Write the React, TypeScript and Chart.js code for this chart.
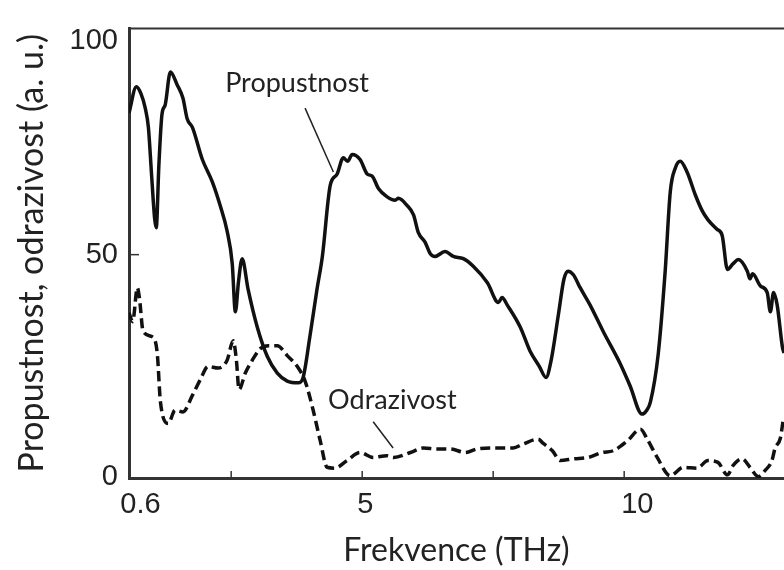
import React, { useEffect, useRef } from 'react';
import { Chart, registerables } from 'chart.js';

Chart.register(...registerables);

// Propustnost (solid line)
const propX = [0.55, 0.69, 0.78, 0.86, 0.92, 0.98, 1.04, 1.07, 1.12, 1.18, 1.24, 1.34, 1.47, 1.58, 1.66, 1.76, 1.95, 2.14, 2.29, 2.42, 2.52, 2.58, 2.64, 2.71, 2.82, 3.0, 3.19, 3.38, 3.57, 3.78, 3.87, 4.0, 4.14, 4.24, 4.39, 4.52, 4.64, 4.72, 4.81, 4.96, 5.1, 5.19, 5.31, 5.47, 5.63, 5.69, 5.85, 5.98, 6.07, 6.2, 6.3, 6.39, 6.58, 6.74, 6.93, 7.12, 7.39, 7.6, 7.67, 7.77, 8.02, 8.2, 8.38, 8.51, 8.6, 8.75, 8.85, 8.93, 9.03, 9.16, 9.35, 9.6, 9.92, 10.11, 10.34, 10.42, 10.5, 10.65, 10.78, 10.88, 10.98, 11.07, 11.2, 11.36, 11.49, 11.6, 11.77, 11.87, 11.97, 12.08, 12.18, 12.35, 12.4, 12.45, 12.6, 12.73, 12.79, 12.85, 12.92, 13.02, 13.05];
const propY = [81.7, 87.6, 86, 82.8, 78.5, 68, 58, 56, 70, 81.5, 83.5, 90.9, 88, 85, 80.4, 78.5, 71.3, 66.3, 61, 55.4, 48, 37.2, 44, 49.1, 42.4, 33.7, 27.2, 23.5, 21.7, 21.3, 22.4, 31.5, 42.4, 49.6, 65.5, 68, 71.7, 70.9, 72.4, 71.3, 68, 67.6, 64.8, 63, 62.2, 62.6, 61.1, 58.9, 55, 52.8, 50.2, 49.6, 50.7, 49.6, 49.1, 47.4, 43.7, 39.3, 40.4, 38.7, 33.7, 28.5, 25, 22.5, 26, 37, 44.5, 46.3, 45.5, 42.6, 38.7, 32.8, 25.7, 20.7, 14.3, 15, 17, 27.8, 45.9, 64.1, 69.5, 70.9, 68.5, 63.3, 59.8, 57.8, 55.7, 54.3, 46.7, 48, 48.9, 46.3, 44.6, 45.7, 43, 41.5, 37.2, 41.5, 38.7, 29.3, 28];

// Odrazivost (dashed line)
const odrX = [0.55, 0.62, 0.71, 0.75, 0.82, 1.01, 1.09, 1.15, 1.3, 1.43, 1.58, 1.76, 1.91, 2.06, 2.25, 2.42, 2.54, 2.6, 2.65, 2.77, 2.9, 3.05, 3.21, 3.38, 3.57, 3.76, 3.91, 4.06, 4.2, 4.33, 4.48, 4.71, 4.96, 5.21, 5.47, 5.6, 5.92, 6.17, 6.43, 6.68, 6.97, 7.19, 7.44, 7.69, 7.88, 8.07, 8.36, 8.45, 8.63, 8.78, 9.03, 9.31, 9.58, 9.79, 10.06, 10.31, 10.44, 10.63, 10.88, 11.13, 11.39, 11.6, 11.79, 11.97, 12.08, 12.25, 12.4, 12.56, 12.69, 12.82, 12.88, 12.98, 13.03];
const odrY = [37, 35, 42.6, 40.2, 32.8, 31.5, 27.8, 17, 12.2, 15.2, 14.8, 18.5, 22, 25, 24.6, 26.3, 30.7, 26.3, 19.8, 23.5, 26.3, 28.9, 29.6, 29.6, 27.4, 25, 21.7, 15.4, 8.3, 2.4, 2.2, 3.9, 5.7, 4.6, 5, 4.6, 5.7, 6.7, 6.5, 6.5, 5.7, 6.5, 6.7, 6.7, 6.7, 7.6, 8.7, 7.8, 6.1, 3.9, 4.3, 4.6, 5.7, 6.1, 8.3, 10.9, 8.7, 4.6, 0.5, 2.4, 2.2, 3.9, 3.5, 0.7, 2.8, 4.3, 2.4, 0.3, 1.7, 3.9, 6.7, 8.9, 12.6];

// Axis labels
const xTickLabels = ['0.6', '5', '10'];
const xTickLabelAt = [0.77, 5.06, 10.25];
const xInnerTicks = [2.5, 5, 7.5, 10];
const yTickLabels = ['0', '50', '100'];
const yTickLabelAt = [0.2, 50, 97.8];
const yInnerTicks = [50];
const xTitle = 'Frekvence (THz)';
const yTitle = 'Propustnost, odrazivost (a. u.)';

// Annotations (text anchor and leader line, in data units)
const noteTexts = ['Propustnost', 'Odrazivost'];
const noteTextX = [2.385, 4.35];
const noteTextY = [86.5, 15.4];
const noteLineX1 = [3.91, 5.21];
const noteLineY1 = [82.8, 12.6];
const noteLineX2 = [4.45, 5.59];
const noteLineY2 = [68.5, 6.7];

const decorPlugin = {
  id: 'decor',
  afterDatasetsDraw(chart: any) {
    const { ctx, chartArea, scales } = chart;
    const x = scales.x;
    const y = scales.y;
    ctx.save();
    // top frame line
    ctx.strokeStyle = '#333';
    ctx.lineWidth = 2;
    ctx.beginPath();
    ctx.moveTo(chartArea.left, chartArea.top);
    ctx.lineTo(chartArea.right, chartArea.top);
    ctx.stroke();
    // inner ticks
    ctx.lineWidth = 1.5;
    xInnerTicks.forEach((v) => {
      const px = x.getPixelForValue(v);
      ctx.beginPath();
      ctx.moveTo(px, chartArea.bottom);
      ctx.lineTo(px, chartArea.bottom - 7);
      ctx.stroke();
    });
    yInnerTicks.forEach((v) => {
      const py = y.getPixelForValue(v);
      ctx.beginPath();
      ctx.moveTo(chartArea.left, py);
      ctx.lineTo(chartArea.left + 10, py);
      ctx.stroke();
    });
    // annotations
    ctx.fillStyle = '#222';
    ctx.font = '27px Lato';
    ctx.textAlign = 'left';
    ctx.textBaseline = 'alphabetic';
    ctx.strokeStyle = '#222';
    ctx.lineWidth = 1.5;
    noteTexts.forEach((t, i) => {
      ctx.fillText(t, x.getPixelForValue(noteTextX[i]), y.getPixelForValue(noteTextY[i]));
      ctx.beginPath();
      ctx.moveTo(x.getPixelForValue(noteLineX1[i]), y.getPixelForValue(noteLineY1[i]));
      ctx.lineTo(x.getPixelForValue(noteLineX2[i]), y.getPixelForValue(noteLineY2[i]));
      ctx.stroke();
    });
    ctx.restore();
  },
};

export default function App() {
  const ref = useRef<HTMLCanvasElement | null>(null);
  useEffect(() => {
    if (!ref.current) return;
    const chart = new Chart(ref.current, {
      type: 'line',
      data: {
        datasets: [
          {
            label: 'Propustnost',
            data: propX.map((v, i) => ({ x: v, y: propY[i] })),
            borderColor: '#111',
            borderWidth: 3.5,
            pointRadius: 0,
            cubicInterpolationMode: 'monotone',
            fill: false,
          },
          {
            label: 'Odrazivost',
            data: odrX.map((v, i) => ({ x: v, y: odrY[i] })),
            borderColor: '#111',
            borderWidth: 3.5,
            borderDash: [10, 5],
            pointRadius: 0,
            cubicInterpolationMode: 'monotone',
            fill: false,
          },
        ],
      },
      options: {
        animation: false,
        responsive: false,
        devicePixelRatio: 1,
        layout: { padding: { top: 15, right: 0, left: 0, bottom: 0 } },
        plugins: { legend: { display: false }, tooltip: { enabled: false } },
        scales: {
          x: {
            type: 'linear',
            min: 0.55,
            max: 13.05,
            afterBuildTicks: (s: any) => {
              s.ticks = xTickLabelAt.map((v) => ({ value: v }));
            },
            afterFit: (s: any) => {
              s.height = 92;
            },
            ticks: {
              callback: (_v: any, i: number) => xTickLabels[i],
              autoSkip: false,
              maxRotation: 0,
              padding: 10,
              color: '#222',
              font: { family: 'Liberation Sans', size: 29 },
            },
            grid: { display: true, drawOnChartArea: false, drawTicks: false },
            border: { display: true, color: '#333', width: 3 },
            title: {
              display: true,
              text: xTitle,
              color: '#222',
              font: { family: 'Lato', size: 32 },
              padding: { top: 2, bottom: 0 },
            },
          },
          y: {
            type: 'linear',
            min: 0,
            max: 100.65,
            afterBuildTicks: (s: any) => {
              s.ticks = yTickLabelAt.map((v) => ({ value: v }));
            },
            afterFit: (s: any) => {
              s.width = 129;
            },
            ticks: {
              callback: (_v: any, i: number) => yTickLabels[i],
              autoSkip: false,
              padding: 11,
              color: '#222',
              font: { family: 'Liberation Sans', size: 29 },
            },
            grid: { display: true, drawOnChartArea: false, drawTicks: false },
            border: { display: true, color: '#333', width: 3 },
            title: {
              display: true,
              text: yTitle,
              color: '#222',
              font: { family: 'Lato', size: 34 },
              padding: { top: 12, bottom: 0 },
            },
          },
        },
      },
      plugins: [decorPlugin],
    } as any);
    return () => chart.destroy();
  }, []);
  return (
    <div style={{ position: 'absolute', left: 0, top: 0, width: 784, height: 570, background: '#fff' }}>
      <canvas ref={ref} width={784} height={570} style={{ display: 'block' }} />
    </div>
  );
}
